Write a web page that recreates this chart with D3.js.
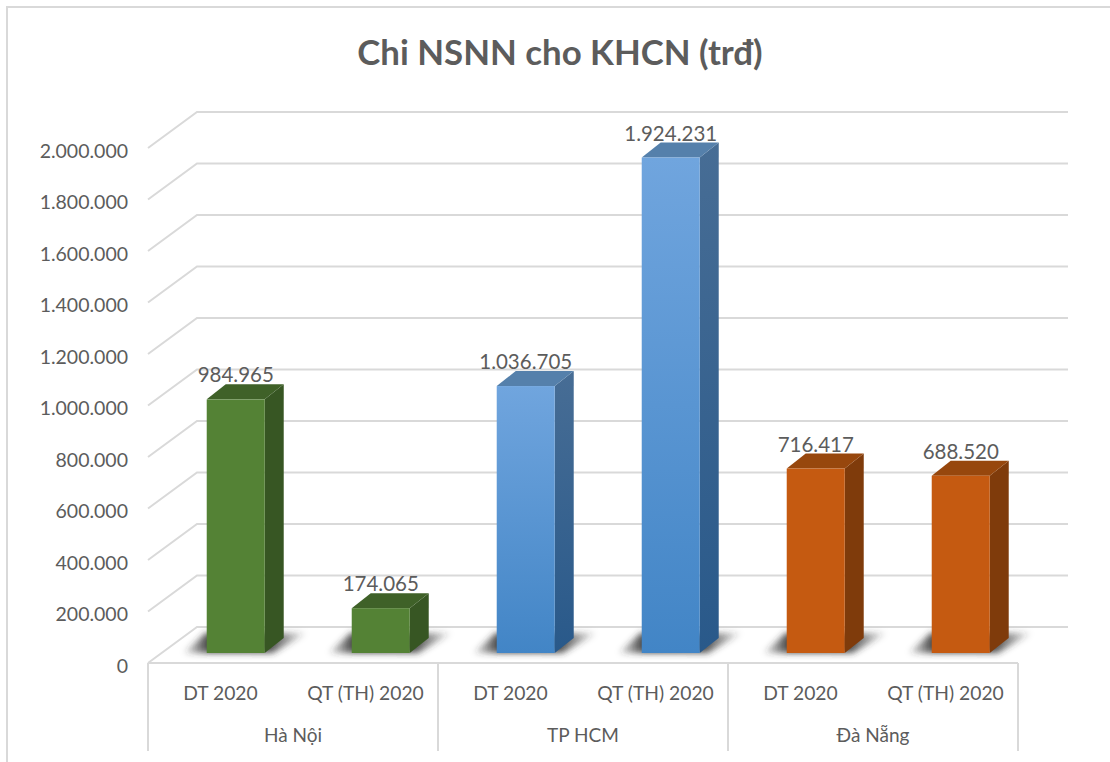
<!DOCTYPE html>
<html>
<head>
<meta charset="utf-8">
<script src="https://cdn.jsdelivr.net/npm/d3@7"></script>
<style>
  html, body { margin: 0; padding: 0; background: #fff; }
  svg { display: block; }
  text { font-family: Lato, "Open Sans", sans-serif; fill: #5c5c5c; }
</style>
</head>
<body>
<div id="chart"></div>
<script>
// Data
const regions = ["Hà Nội", "TP HCM", "Đà Nẵng"];
const periods = ["DT 2020", "QT (TH) 2020"];
const hanoiValues = [984965, 174065];
const hcmValues = [1036705, 1924231];
const danangValues = [716417, 688520];
const yTicks = [0, 200000, 400000, 600000, 800000, 1000000, 1200000, 1400000, 1600000, 1800000, 2000000];
const chartTitle = "Chi NSNN cho KHCN (trđ)";

// Colours per region: front top/bottom, side top/bottom, roof
const frontTop = ["#548235", "#70a5de", "#c55a11"];
const frontBottom = ["#548235", "#4285c6", "#c55a11"];
const sideTop = ["#375623", "#476d95", "#7f3b0b"];
const sideBottom = ["#375623", "#29598a", "#7f3b0b"];
const roofColor = ["#3f6128", "#5580ab", "#97470d"];

const width = 1110;
const height = 762;
const gridColor = "#d9d9d9";

// Box geometry (oblique view of the 3D plot)
const floorFront = 663;
const floorBack = 627;
const plotHeight = 515;
const plotLeft = 148;
const plotRight = 1018;
const wallDx = 49;
const barBase = 653;
const barDx = 19;
const barDy = 15;

const bars = [hanoiValues, hcmValues, danangValues].flatMap((vals, r) =>
    vals.map((value, p) => ({ key: r + "-" + p, region: r, period: periods[p], value })));

const x = d3.scaleBand().domain(bars.map(d => d.key)).range([plotLeft, plotRight]);
const groupX = d3.scaleBand().domain(regions).range([plotLeft, plotRight]);
const h = d3.scaleLinear().domain([0, 2000000]).range([0, plotHeight]);
const barWidth = x.bandwidth() * 0.4;
const barLeft = d => x(d.key) + x.bandwidth() * 0.405;

const svg = d3.select("#chart").append("svg")
    .attr("width", width)
    .attr("height", height);

const defs = svg.append("defs");
defs.append("filter").attr("id", "soft")
    .attr("x", "-20%").attr("y", "-40%").attr("width", "140%").attr("height", "180%")
    .append("feGaussianBlur").attr("stdDeviation", 3);

const shadowGrad = defs.append("linearGradient").attr("id", "shadowFill");
[[0, 0.1], [0.2, 0.9], [0.7, 0.85], [1, 0.05]].forEach(s => {
    shadowGrad.append("stop").attr("offset", s[0])
        .attr("stop-color", "#303030").attr("stop-opacity", s[1]);
});

function vertical(id, top, bottom) {
    const g = defs.append("linearGradient").attr("id", id)
        .attr("x1", 0).attr("y1", 0).attr("x2", 0).attr("y2", 1);
    g.append("stop").attr("offset", 0).attr("stop-color", top);
    g.append("stop").attr("offset", 1).attr("stop-color", bottom);
}
regions.forEach((r, i) => {
    vertical("front" + i, frontTop[i], frontBottom[i]);
    vertical("side" + i, sideTop[i], sideBottom[i]);
});

// Chart frame, only top and left are inside the picture
svg.append("path")
    .attr("d", `M7,${height}V7H${width}`)
    .attr("fill", "none")
    .attr("stroke", gridColor)
    .attr("stroke-width", 2);

// Title
svg.append("text")
    .attr("x", 560)
    .attr("y", 65)
    .attr("text-anchor", "middle")
    .attr("font-size", 34.8)
    .attr("font-weight", 700)
    .text(chartTitle);

// Gridlines: back wall plus the slanted part on the left wall
const grid = svg.append("g")
    .attr("fill", "none")
    .attr("stroke", gridColor)
    .attr("stroke-width", 2);

grid.selectAll("path")
    .data(yTicks)
    .enter()
    .append("path")
    .attr("d", d => `M${plotLeft},${floorFront - h(d)}L${plotLeft + wallDx},${floorBack - h(d)}H${plotRight + wallDx + 1}`);

// Category axis lines
const axisLines = svg.append("g")
    .attr("stroke", gridColor)
    .attr("stroke-width", 2);

axisLines.append("line")
    .attr("x1", plotLeft).attr("x2", plotRight)
    .attr("y1", floorFront).attr("y2", floorFront);

axisLines.selectAll(".sep")
    .data(regions.concat("end"))
    .enter()
    .append("line")
    .attr("class", "sep")
    .attr("x1", (d, i) => plotLeft + i * groupX.bandwidth())
    .attr("x2", (d, i) => plotLeft + i * groupX.bandwidth())
    .attr("y1", floorFront)
    .attr("y2", 751);

// Y tick labels
const locale = d3.formatLocale({ decimal: ",", thousands: ".", grouping: [3], currency: ["", ""] });
const fmt = locale.format(",d");
const yLabelScale = d3.scaleLinear().domain([0, 2000000]).range([floorFront + 3, floorFront + 3 - plotHeight]);

const yAxis = svg.append("g")
    .attr("transform", "translate(128,0)")
    .call(d3.axisLeft(yLabelScale).tickValues(yTicks).tickFormat(fmt).tickSize(0).tickPadding(0));
yAxis.select(".domain").remove();
yAxis.selectAll("text")
    .attr("font-size", 19.5)
    .attr("font-family", "Lato");

// Floor shadows
svg.append("g")
    .selectAll("polygon")
    .data(bars)
    .enter()
    .append("polygon")
    .attr("points", d => {
        const l = barLeft(d);
        const r = l + barWidth;
        return [[l - 23, barBase], [r + 8, barBase], [r + 42, barBase - 20], [l - 1, barBase - 20]].join(" ");
    })
    .attr("fill", "url(#shadowFill)")
    .attr("filter", "url(#soft)");

// Bars: side, roof, front
const bar = svg.append("g")
    .selectAll("g")
    .data(bars)
    .enter()
    .append("g");

bar.append("polygon")
    .attr("points", d => {
        const r = barLeft(d) + barWidth;
        const t = barBase - h(d.value);
        return [[r, t], [r + barDx, t - barDy], [r + barDx, barBase - barDy], [r, barBase]].join(" ");
    })
    .attr("fill", d => `url(#side${d.region})`);

bar.append("polygon")
    .attr("points", d => {
        const l = barLeft(d);
        const t = barBase - h(d.value);
        return [[l, t], [l + barDx, t - barDy], [l + barWidth + barDx, t - barDy], [l + barWidth, t]].join(" ");
    })
    .attr("fill", d => roofColor[d.region]);

bar.append("rect")
    .attr("x", barLeft)
    .attr("y", d => barBase - h(d.value))
    .attr("width", barWidth)
    .attr("height", d => h(d.value))
    .attr("fill", d => `url(#front${d.region})`);

// Value labels
bar.append("text")
    .attr("x", d => barLeft(d) + barWidth / 2)
    .attr("y", d => barBase - h(d.value) - barDy - 2)
    .attr("text-anchor", "middle")
    .attr("font-size", 20.5)
    .text(d => fmt(d.value));

// Category labels
svg.append("g")
    .selectAll("text")
    .data(bars)
    .enter()
    .append("text")
    .attr("x", d => x(d.key) + x.bandwidth() / 2)
    .attr("y", 700)
    .attr("text-anchor", "middle")
    .attr("font-size", 19.3)
    .text(d => d.period);

svg.append("g")
    .selectAll("text")
    .data(regions)
    .enter()
    .append("text")
    .attr("x", d => groupX(d) + groupX.bandwidth() / 2)
    .attr("y", 742)
    .attr("text-anchor", "middle")
    .attr("font-size", 19)
    .text(d => d);
</script>
</body>
</html>
